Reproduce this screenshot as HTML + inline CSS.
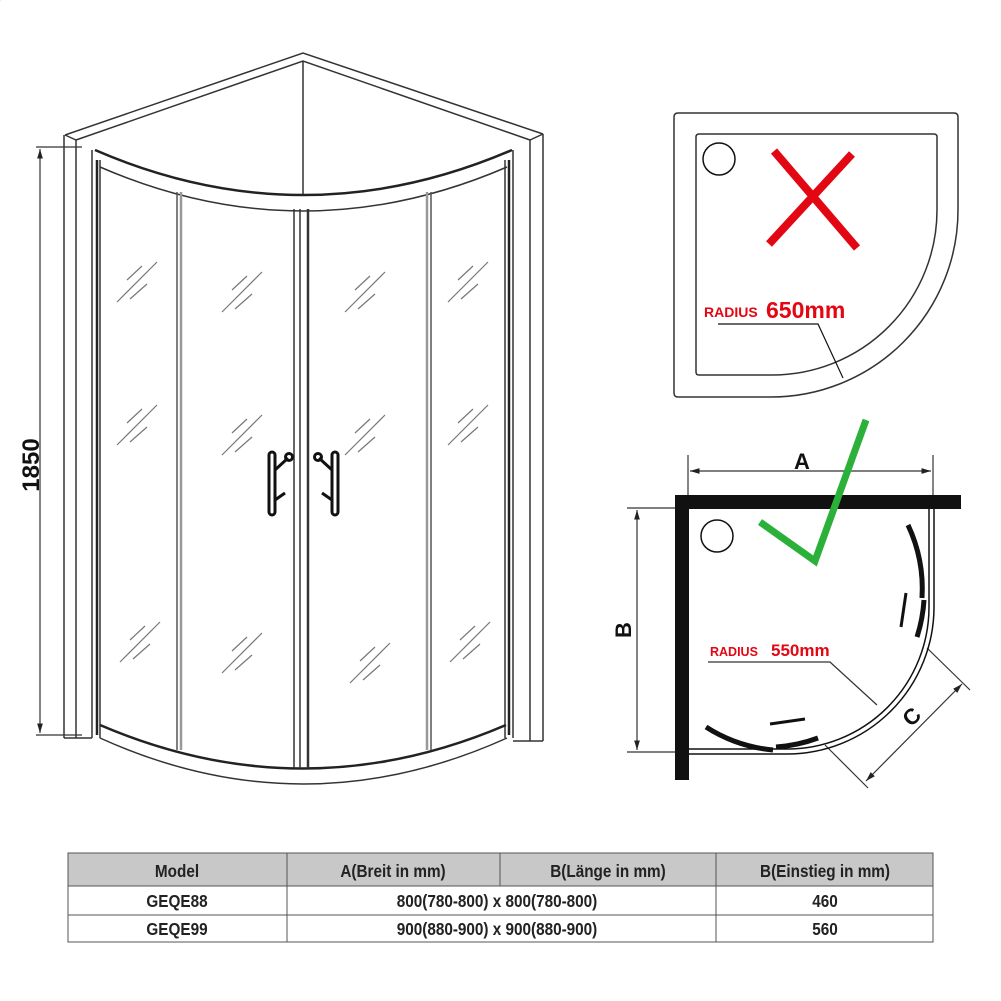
<!DOCTYPE html>
<html><head><meta charset="utf-8"><style>
html,body{margin:0;padding:0;background:#fff;}
svg{display:block;}
text{font-family:"Liberation Sans",Arial,sans-serif;}
</style></head><body>
<svg width="1001" height="1001" viewBox="0 0 1001 1001" xmlns="http://www.w3.org/2000/svg">
<defs>
<marker id="ar" viewBox="0 0 10 10" refX="10" refY="5" markerWidth="8" markerHeight="8" orient="auto-start-reverse"><path d="M0,2 L10,5 L0,8 z" fill="#222"/></marker>
</defs>
<g fill="none" stroke="#333" stroke-width="1.5">
<polyline points="65,135 303,53 543,134"/>
<polyline points="76,140 303,61 530,140"/>
<line x1="303" y1="61" x2="303" y2="194"/>
<line x1="65" y1="135" x2="76" y2="140"/><line x1="543" y1="134" x2="530" y2="140"/>
<line x1="64" y1="135" x2="64" y2="738"/><line x1="76" y1="140" x2="76" y2="738"/>
<line x1="543" y1="134" x2="543" y2="741"/><line x1="530" y1="140" x2="530" y2="741"/>
<line x1="64" y1="738" x2="92" y2="738"/><line x1="543" y1="741" x2="513" y2="741"/>
<line x1="92" y1="150" x2="92" y2="738"/><line x1="100" y1="160" x2="100" y2="738"/>
<line x1="513" y1="150" x2="513" y2="738"/><line x1="505" y1="160" x2="505" y2="738"/>
<path d="M95,150 Q303,240 512,150" stroke-width="2.5" stroke="#222"/>
<path d="M100,167 Q303,255 507,167"/>
<path d="M100,725 Q303,812 506,725" stroke-width="2.5" stroke="#222"/>
<path d="M100,738 Q303,830 507,738"/>
<line x1="177" y1="192" x2="177" y2="750" stroke="#555"/><line x1="181" y1="192" x2="181" y2="750" stroke="#999" stroke-width="2.5"/>
<line x1="294" y1="209" x2="294" y2="768"/><line x1="300" y1="209" x2="300" y2="768"/>
<line x1="308" y1="209" x2="308" y2="768" stroke-width="2.5"/>
<line x1="427" y1="192" x2="427" y2="750" stroke="#999" stroke-width="2.5"/><line x1="431" y1="192" x2="431" y2="750" stroke="#555"/>
<line x1="97" y1="160" x2="97" y2="735" stroke-width="2.5" stroke="#222"/>
<line x1="509" y1="160" x2="509" y2="735" stroke-width="2.5" stroke="#222"/>
</g>
<g stroke="#777" stroke-width="1.2">
<g id="gl"><line x1="0" y1="0" x2="40" y2="-40"/><line x1="10" y1="-22" x2="25" y2="-36"/><line x1="13" y1="-3" x2="30" y2="-18"/></g>
<use href="#gl" x="117" y="302"/><use href="#gl" x="117" y="445"/><use href="#gl" x="120" y="662"/>
<use href="#gl" x="222" y="312"/><use href="#gl" x="222" y="455"/><use href="#gl" x="222" y="673"/>
<use href="#gl" x="345" y="312"/><use href="#gl" x="345" y="455"/><use href="#gl" x="350" y="683"/>
<use href="#gl" x="448" y="302"/><use href="#gl" x="448" y="445"/><use href="#gl" x="450" y="662"/>
</g>
<g fill="none" stroke="#111" stroke-width="3">
<rect x="269" y="452" width="6" height="63" rx="3"/>
<line x1="275" y1="470" x2="288" y2="458"/><circle cx="289" cy="457" r="3.5"/>
<line x1="275" y1="500" x2="285" y2="493"/>
<rect x="332" y="452" width="6" height="63" rx="3"/>
<line x1="332" y1="470" x2="319" y2="458"/><circle cx="318" cy="457" r="3.5"/>
<line x1="332" y1="500" x2="322" y2="493"/>
</g>
<g stroke="#333" stroke-width="1.2">
<line x1="36" y1="147" x2="82" y2="147"/><line x1="36" y1="735" x2="82" y2="735"/>
<line x1="40" y1="149" x2="40" y2="733" marker-start="url(#ar)" marker-end="url(#ar)"/>
</g>
<text transform="translate(39,465) rotate(-90)" font-size="24" font-weight="bold" text-anchor="middle" fill="#111">1850</text>

<g fill="none" stroke="#333" stroke-width="1.5">
<path d="M678,113 L954,113 Q958,113 958,117 L958,210 A187,187 0 0 1 771,397 L678,397 Q674,397 674,393 L674,117 Q674,113 678,113 Z"/>
<path d="M699,134 L934,134 Q937,134 937,137 L937,210 A165,165 0 0 1 772,375 L699,375 Q696,375 696,372 L696,137 Q696,134 699,134 Z"/>
<circle cx="719" cy="159" r="16" stroke="#111"/>
<polyline points="718,324 818,324 843,378" stroke="#111" stroke-width="1.2"/>
</g>
<g stroke="#e30613" stroke-width="8">
<line x1="774" y1="151" x2="857" y2="248"/><line x1="769" y1="244" x2="852" y2="154"/>
</g>
<text x="704" y="317" font-size="14" font-weight="bold" fill="#e30613">RADIUS</text>
<text x="766" y="318" font-size="23" font-weight="bold" fill="#e30613">650mm</text>

<g stroke="#333" stroke-width="1.2" fill="none">
<line x1="688" y1="455" x2="688" y2="497"/><line x1="933" y1="455" x2="933" y2="505"/>
<line x1="690" y1="471" x2="931" y2="471" marker-start="url(#ar)" marker-end="url(#ar)"/>
<line x1="627" y1="508" x2="675" y2="508"/><line x1="627" y1="752" x2="675" y2="752"/>
<line x1="637" y1="510" x2="637" y2="750" marker-start="url(#ar)" marker-end="url(#ar)"/>
<line x1="927" y1="648" x2="970" y2="690"/><line x1="825" y1="745" x2="868" y2="788"/>
<line x1="962" y1="684" x2="866" y2="781" marker-start="url(#ar)" marker-end="url(#ar)"/>
<polyline points="708,662 830,662 877,705"/>
</g>
<text x="802" y="469" font-size="22" font-weight="bold" text-anchor="middle" fill="#111">A</text>
<text transform="translate(631,630) rotate(-90)" font-size="22" font-weight="bold" text-anchor="middle" fill="#111">B</text>
<text transform="translate(917,722) rotate(-45)" font-size="22" font-weight="bold" text-anchor="middle" fill="#111">C</text>
<rect x="675" y="495" width="286" height="14" fill="#111"/>
<rect x="675" y="495" width="14" height="285" fill="#111"/>
<g fill="none" stroke="#111" stroke-width="1.5">
<path d="M929,509 L929,607 A142,142 0 0 1 787,749 L689,749"/>
<path d="M934,509 L934,607 A147,147 0 0 1 787,754 L689,754"/>
</g>
<g fill="none" stroke="#111" stroke-width="5">
<path d="M908,525 A150,150 0 0 1 922,598"/>
<path d="M924,600 A150,150 0 0 1 917,637"/>
<path d="M706,727 A150,150 0 0 0 773,750"/>
<path d="M776,747 A150,150 0 0 0 818,738"/>
<line x1="906" y1="593" x2="901" y2="627" stroke-width="3"/>
<line x1="770" y1="724" x2="805" y2="719" stroke-width="3"/>
</g>
<circle cx="717" cy="536" r="16" fill="none" stroke="#111" stroke-width="1.5"/>
<polyline points="760,522 815,561 866,420" fill="none" stroke="#2bb03a" stroke-width="7"/>
<text x="710" y="656" font-size="12.5" font-weight="bold" fill="#e30613">RADIUS</text>
<text x="771" y="656" font-size="17" font-weight="bold" fill="#e30613">550mm</text>

<rect x="68" y="853" width="865" height="33" fill="#c8c8c8"/>
<g stroke="#555" stroke-width="1" fill="none">
<rect x="68" y="853" width="865" height="89"/>
<line x1="68" y1="886" x2="933" y2="886"/><line x1="68" y1="915" x2="933" y2="915"/>
<line x1="287" y1="853" x2="287" y2="942"/><line x1="500" y1="853" x2="500" y2="886"/><line x1="716" y1="853" x2="716" y2="942"/>
</g>
<g font-size="18" font-weight="bold" fill="#222" text-anchor="middle">
<g transform="translate(177,0) scale(0.85,1)"><text x="0" y="877">Model</text><text x="0" y="907">GEQE88</text><text x="0" y="935">GEQE99</text></g>
<g transform="translate(393,0) scale(0.85,1)"><text x="0" y="877">A(Breit in mm)</text></g>
<g transform="translate(608,0) scale(0.85,1)"><text x="0" y="877">B(Länge in mm)</text></g>
<g transform="translate(825,0) scale(0.85,1)"><text x="0" y="877">B(Einstieg in mm)</text><text x="0" y="907">460</text><text x="0" y="935">560</text></g>
<g transform="translate(497,0) scale(0.85,1)"><text x="0" y="907">800(780-800)  x  800(780-800)</text><text x="0" y="935">900(880-900)  x  900(880-900)</text></g>
</g>
</svg>
</body></html>
